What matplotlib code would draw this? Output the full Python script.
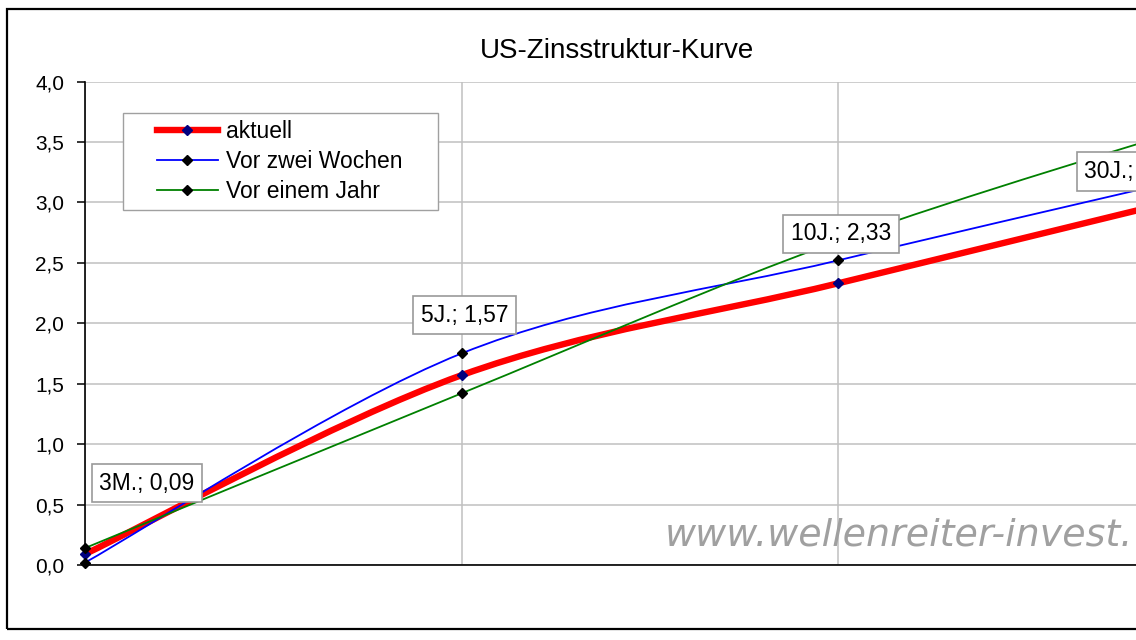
import matplotlib
matplotlib.use("Agg")
import matplotlib.pyplot as plt
from matplotlib.path import Path
from matplotlib.patches import PathPatch, Rectangle
from matplotlib.lines import Line2D

# ---- data ----
categories = ["3M.", "5J.", "10J.", "30J."]
aktuell = [0.09, 1.57, 2.33, 3.09]
vor_zwei_wochen = [0.02, 1.75, 2.52, 3.25]
vor_einem_jahr = [0.14, 1.42, 2.68, 3.68]
series_names = ["aktuell", "Vor zwei Wochen", "Vor einem Jahr"]
yticks = [0.0, 0.5, 1.0, 1.5, 2.0, 2.5, 3.0, 3.5, 4.0]
ytick_labels = ["0,0", "0,5", "1,0", "1,5", "2,0", "2,5", "3,0", "3,5", "4,0"]
title = "US-Zinsstruktur-Kurve"
watermark = "www.wellenreiter-invest."

plt.rcParams['font.family'] = ['Liberation Sans', 'DejaVu Sans']

W, H = 1136, 640
fig = plt.figure(figsize=(W / 100, H / 100), dpi=100)
fig.patch.set_facecolor('white')

# axes: category 0 at x=85px, category 3 at x=1214.5px (outside the crop)
x0, x3 = 85.0, 1214.5
yb, yt = 565.0, 81.5
ax = fig.add_axes([x0 / W, (H - yb) / H, (x3 - x0) / W, (yb - yt) / H])
ax.set_xlim(0, len(categories) - 1)
ax.set_ylim(0, 4.0)
ax.set_facecolor('white')

xs = list(range(len(categories)))

# grid
ax.set_yticks(yticks)
ax.set_yticklabels(ytick_labels)
ax.set_xticks(xs)
ax.set_xticklabels([])
ax.grid(True, color='#c0c0c0', linewidth=1.1, zorder=0)
ax.set_axisbelow(True)
ax.tick_params(axis='x', length=0)
ax.tick_params(axis='y', direction='out', length=6, width=1.1, pad=9,
               labelsize=15, colors='black')
for s in ['top', 'right']:
    ax.spines[s].set_visible(False)
for s in ['left', 'bottom']:
    ax.spines[s].set_color('black')
    ax.spines[s].set_linewidth(1.2)
    ax.spines[s].set_zorder(2)


def smooth_path(xv, yv):
    """Excel-like smoothed line as cubic Bezier segments (Catmull-Rom)."""
    n = len(xv)
    verts = [(xv[0], yv[0])]
    codes = [Path.MOVETO]
    for i in range(n - 1):
        im1 = max(i - 1, 0)
        ip2 = min(i + 2, n - 1)
        c1 = (xv[i] + (xv[i + 1] - xv[im1]) / 6.0, yv[i] + (yv[i + 1] - yv[im1]) / 6.0)
        c2 = (xv[i + 1] - (xv[ip2] - xv[i]) / 6.0, yv[i + 1] - (yv[ip2] - yv[i]) / 6.0)
        verts += [c1, c2, (xv[i + 1], yv[i + 1])]
        codes += [Path.CURVE4] * 3
    return Path(verts, codes)


styles = [
    dict(data=aktuell, color='#ff0000', lw=4.6, mfc='#000080'),
    dict(data=vor_zwei_wochen, color='#0000ff', lw=1.3, mfc='black'),
    dict(data=vor_einem_jahr, color='#008000', lw=1.3, mfc='black'),
]

handles = []
for k, st in enumerate(styles):
    patch = PathPatch(smooth_path(xs, st['data']), fill=False, edgecolor=st['color'],
                      linewidth=st['lw'], capstyle='butt', joinstyle='round', zorder=3 + k)
    ax.add_patch(patch)
    ax.plot(xs, st['data'], linestyle='none', marker='D', markersize=5.5,
            markerfacecolor=st['mfc'], markeredgecolor=st['mfc'], clip_on=False,
            zorder=6 + k)
    handles.append(Line2D([], [], color=st['color'], lw=st['lw'], marker='D',
                          markersize=5.5, markerfacecolor=st['mfc'],
                          markeredgecolor=st['mfc']))

# data labels for "aktuell"
label_offsets_pt = [(44.6, 51.0), (2.2, 43.2), (2.2, 35.6), (-57.6, 14.4)]
for i, (cat, val) in enumerate(zip(categories, aktuell)):
    txt = f"{cat}; " + f"{val:.2f}".replace('.', ',')
    ax.annotate(txt, xy=(xs[i], val), xytext=label_offsets_pt[i], textcoords='offset points',
                ha='center', va='center', fontsize=16.5, color='black', zorder=20,
                annotation_clip=False,
                bbox=dict(boxstyle='square,pad=0.33', facecolor='white',
                          edgecolor='#999999', linewidth=1.2))

# watermark
fig.text(665 / W, (H - 545) / H, watermark, fontsize=27.4, style='italic',
         family=['DejaVu Sans'], color='#a0a0a0', ha='left', va='baseline', zorder=1)

# legend
fig.add_artist(Rectangle((123 / W, (H - 210) / H), 315 / W, 97 / H, transform=fig.transFigure,
                         fill=True, facecolor='white', edgecolor='#a0a0a0', linewidth=1.0,
                         zorder=25))
leg = fig.legend(handles, series_names, loc='upper left',
                 bbox_to_anchor=(157 / W, 1 - 120 / H), bbox_transform=fig.transFigure,
                 frameon=False, fontsize=16.5, handlelength=2.66, handletextpad=0.35,
                 labelspacing=0.31, borderpad=0, borderaxespad=0, numpoints=1)
leg.set_zorder(30)

# title
fig.text(617 / W, 1 - 57.5 / H, title, fontsize=20, ha='center', va='baseline', color='black')

# outer chart border (extends past the right edge of the crop)
fig.add_artist(Rectangle((7 / W, (H - 629) / H), 2.0, 620 / H, transform=fig.transFigure,
                         fill=False, edgecolor='black', linewidth=1.6, zorder=40))

fig.savefig('out.png', dpi=100, facecolor='white')
